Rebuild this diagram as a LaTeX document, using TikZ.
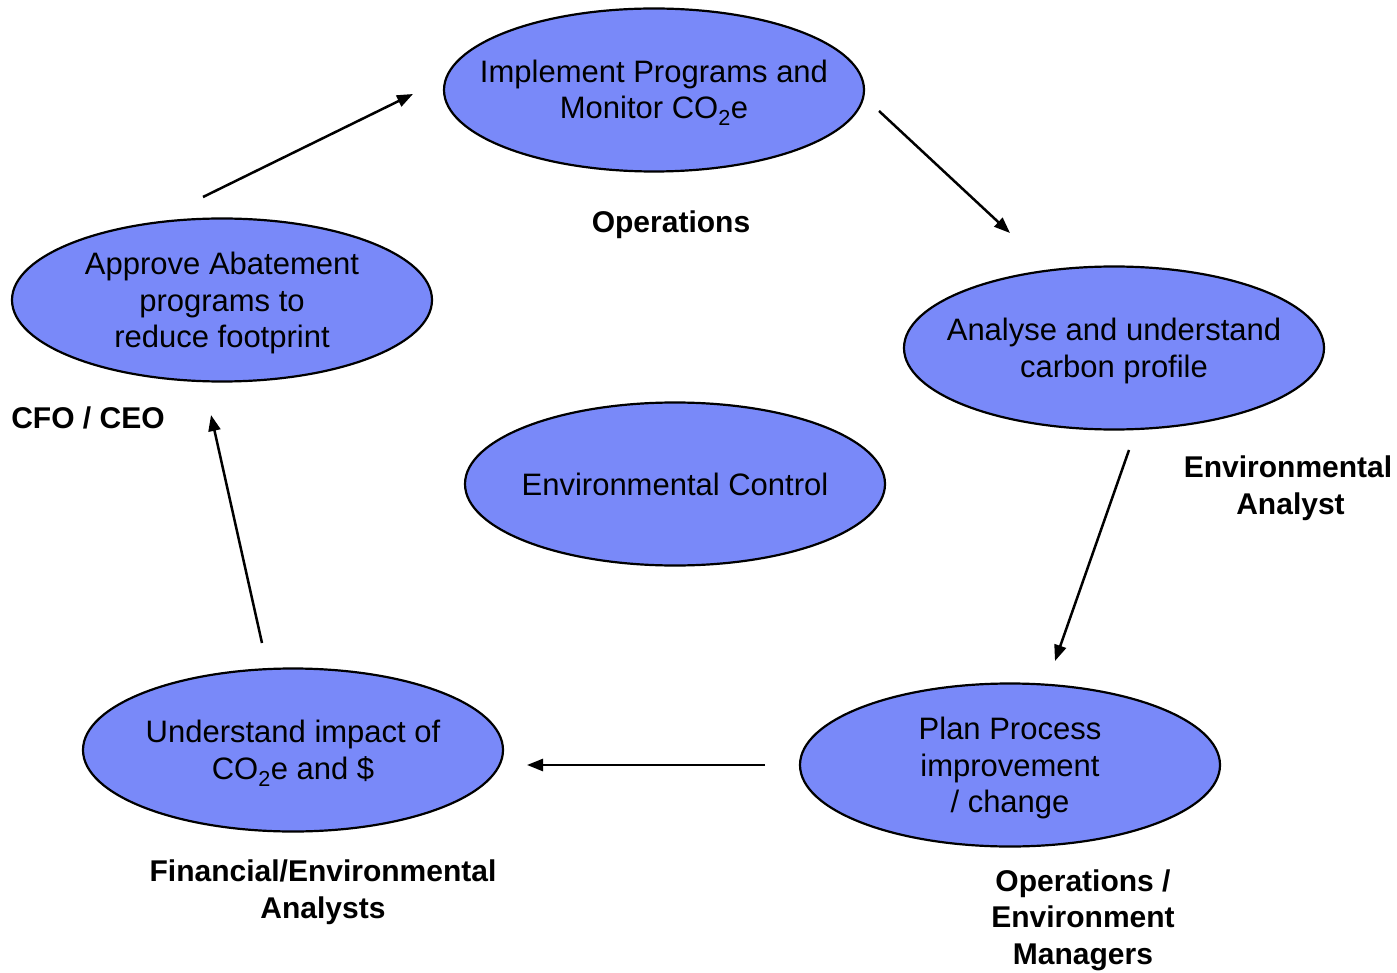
\documentclass[tikz,border=0pt]{standalone}
\usepackage{fontspec}
\setmainfont{Liberation Sans}
\usetikzlibrary{shapes.geometric,arrows.meta}
\definecolor{ellfill}{RGB}{121,137,249}
\tikzset{
  ell/.style={ellipse,draw=black,line width=2.2pt,fill=ellfill,inner xsep=-45pt,inner ysep=-12pt,
    minimum width=420pt,minimum height=163pt,align=center,text depth=0pt,
    font=\fontsize{31}{36.5}\selectfont},
  role/.style={align=center,inner sep=0pt,font=\fontsize{30}{36.5}\selectfont\bfseries},
  flow/.style={line width=2.5pt,-{Triangle[length=16pt,width=12pt]}}
}
\begin{document}
\begin{tikzpicture}[x=1pt,y=-1pt]
\useasboundingbox (0,0) rectangle (1397,973);
\node[ell] (impl) at (654,90) {\raisebox{24pt}{\begin{tabular}{@{}c@{}}Implement Programs and\\Monitor CO\textsubscript{2}e\end{tabular}}};
\node[ell] (anal) at (1114,348) {Analyse and understand\\carbon profile};
\node[ell] (plan) at (1010,765) {Plan Process\\improvement\\/ change};
\node[ell] (und) at (293,750) {Understand impact of\\CO\textsubscript{2}e and \$};
\node[ell] (appr) at (222,300) {Approve Abatement\\programs to\\reduce footprint};
\node[ell] (env) at (675,484) {Environmental Control};

\node[role] (ops) at (671,225) {Operations};
\node[role] (cfo) at (88,418) {CFO / CEO};
\node[role] (ea) at (1288,488) {Environmental\\\hspace{5pt}Analyst};
\node[role] (fea) at (323,892) {Financial/Environmental\\Analysts};
\node[role] (oem) at (1083,920) {Operations /\\Environment\\Managers};

\coordinate (a1s) at (203,197); \coordinate (a1e) at (413,94);
\coordinate (a2s) at (879,111); \coordinate (a2e) at (1010,233);
\coordinate (a3s) at (1129,450); \coordinate (a3e) at (1055,661);
\coordinate (a4s) at (765,765); \coordinate (a4e) at (527,765);
\coordinate (a5s) at (262,643); \coordinate (a5e) at (211,415);
\draw[flow] (a1s) -- (a1e);
\draw[flow] (a2s) -- (a2e);
\draw[flow] (a3s) -- (a3e);
\draw[flow] (a4s) -- (a4e);
\draw[flow] (a5s) -- (a5e);
\end{tikzpicture}
\end{document}
